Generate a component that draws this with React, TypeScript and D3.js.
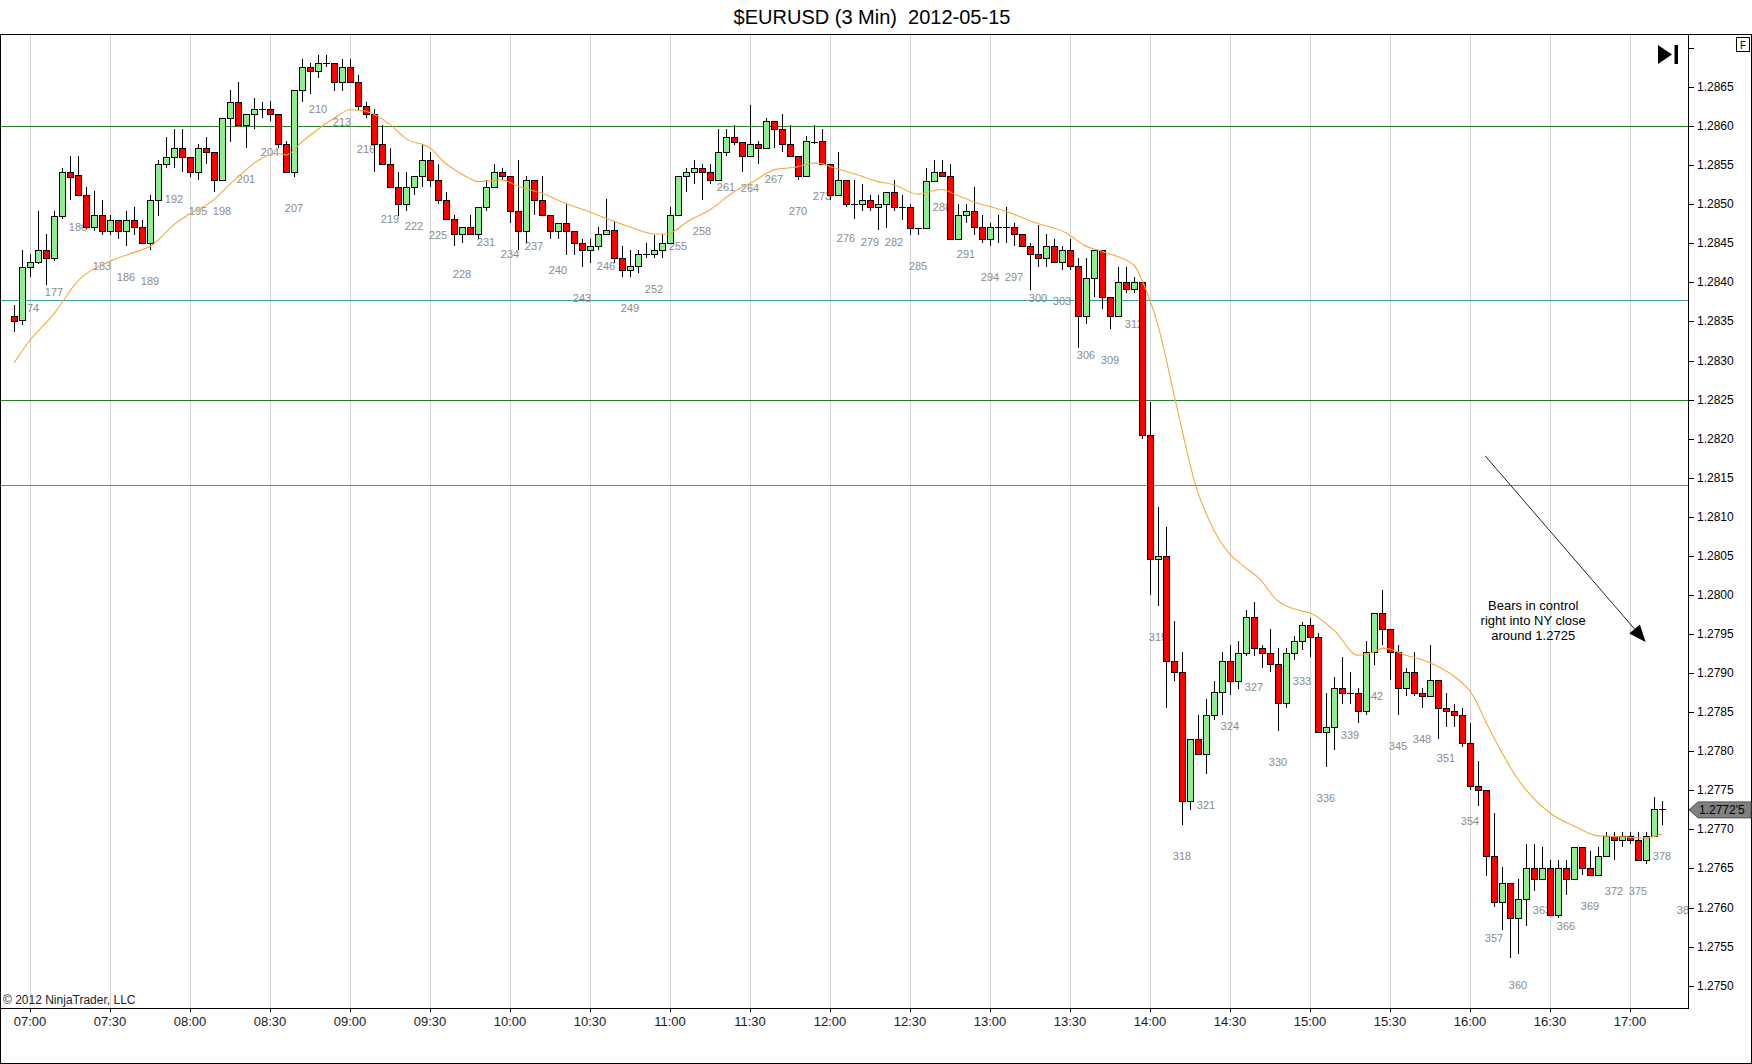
import React from 'react';
import * as d3 from 'd3';

// bar numbers run from FIRST_BAR, one bar every 3 minutes
const FIRST_BAR = 172;

const open = [
  1.28357, 1.28352, 1.28420, 1.28426, 1.28441, 1.28431, 1.28485, 1.28541, 1.28538, 1.28512,
  1.28471, 1.28486, 1.28466, 1.28480, 1.28466, 1.28480, 1.28471, 1.28451, 1.28506, 1.28551,
  1.28561, 1.28572, 1.28561, 1.28541, 1.28572, 1.28567, 1.28531, 1.28611, 1.28631, 1.28601,
  1.28616, 1.28622, 1.28622, 1.28616, 1.28577, 1.28541, 1.28646, 1.28676, 1.28671, 1.28681,
  1.28681, 1.28656, 1.28676, 1.28656, 1.28626, 1.28616, 1.28577, 1.28551, 1.28522, 1.28501,
  1.28522, 1.28536, 1.28557, 1.28531, 1.28506, 1.28481, 1.28462, 1.28471, 1.28462, 1.28496,
  1.28522, 1.28541, 1.28536, 1.28491, 1.28466, 1.28531, 1.28506, 1.28486, 1.28466, 1.28476,
  1.28466, 1.28451, 1.28442, 1.28447, 1.28462, 1.28467, 1.28431, 1.28416, 1.28421, 1.28436,
  1.28436, 1.28441, 1.28451, 1.28486, 1.28536, 1.28541, 1.28546, 1.28541, 1.28531, 1.28567,
  1.28586, 1.28580, 1.28562, 1.28577, 1.28572, 1.28606, 1.28596, 1.28577, 1.28562, 1.28536,
  1.28580, 1.28581, 1.28551, 1.28512, 1.28531, 1.28501, 1.28501, 1.28506, 1.28496, 1.28501,
  1.28516, 1.28496, 1.28496, 1.28470, 1.28470, 1.28530, 1.28541, 1.28536, 1.28456, 1.28486,
  1.28491, 1.28471, 1.28456, 1.28471, 1.28471, 1.28471, 1.28462, 1.28446, 1.28436, 1.28431,
  1.28446, 1.28426, 1.28441, 1.28421, 1.28357, 1.28406, 1.28441, 1.28381, 1.28357, 1.28401,
  1.28391, 1.28401, 1.28205, 1.28046, 1.28050, 1.27916, 1.27901, 1.27736, 1.27816, 1.27796,
  1.27846, 1.27876, 1.27916, 1.27890, 1.27926, 1.27972, 1.27932, 1.27926, 1.27912, 1.27862,
  1.27926, 1.27941, 1.27961, 1.27946, 1.27825, 1.27831, 1.27881, 1.27875, 1.27875, 1.27851,
  1.27927, 1.27977, 1.27956, 1.27927, 1.27881, 1.27901, 1.27875, 1.27871, 1.27891, 1.27856,
  1.27851, 1.27846, 1.27811, 1.27756, 1.27751, 1.27666, 1.27607, 1.27631, 1.27586, 1.27611,
  1.27651, 1.27637, 1.27651, 1.27591, 1.27651, 1.27637, 1.27677, 1.27651, 1.27642, 1.27666,
  1.27692, 1.27686, 1.27692, 1.27686, 1.27661, 1.27692, 1.27726,
];

const high = [
  1.28371, 1.28441, 1.28436, 1.28491, 1.28462, 1.28491, 1.28547, 1.28562, 1.28562, 1.28522,
  1.28517, 1.28506, 1.28486, 1.28480, 1.28491, 1.28496, 1.28480, 1.28512, 1.28557, 1.28586,
  1.28596, 1.28596, 1.28561, 1.28577, 1.28586, 1.28567, 1.28611, 1.28646, 1.28656, 1.28616,
  1.28636, 1.28631, 1.28632, 1.28616, 1.28581, 1.28646, 1.28686, 1.28681, 1.28691, 1.28691,
  1.28681, 1.28686, 1.28686, 1.28666, 1.28631, 1.28622, 1.28601, 1.28572, 1.28541, 1.28541,
  1.28536, 1.28577, 1.28567, 1.28551, 1.28516, 1.28486, 1.28471, 1.28486, 1.28496, 1.28531,
  1.28551, 1.28546, 1.28536, 1.28557, 1.28536, 1.28531, 1.28536, 1.28486, 1.28476, 1.28501,
  1.28466, 1.28456, 1.28456, 1.28471, 1.28507, 1.28477, 1.28446, 1.28442, 1.28442, 1.28451,
  1.28461, 1.28462, 1.28497, 1.28536, 1.28546, 1.28557, 1.28551, 1.28551, 1.28596, 1.28596,
  1.28602, 1.28580, 1.28627, 1.28581, 1.28611, 1.28606, 1.28616, 1.28602, 1.28562, 1.28587,
  1.28602, 1.28596, 1.28551, 1.28567, 1.28531, 1.28531, 1.28526, 1.28512, 1.28512, 1.28516,
  1.28531, 1.28512, 1.28501, 1.28470, 1.28546, 1.28557, 1.28557, 1.28552, 1.28501, 1.28501,
  1.28522, 1.28486, 1.28476, 1.28486, 1.28496, 1.28476, 1.28462, 1.28451, 1.28474, 1.28462,
  1.28456, 1.28446, 1.28456, 1.28431, 1.28431, 1.28441, 1.28441, 1.28381, 1.28420, 1.28420,
  1.28407, 1.28401, 1.28247, 1.28112, 1.28087, 1.27967, 1.27927, 1.27816, 1.27846, 1.27867,
  1.27890, 1.27927, 1.27936, 1.27941, 1.27981, 1.27991, 1.27936, 1.27956, 1.27932, 1.27932,
  1.27947, 1.27966, 1.27971, 1.27951, 1.27875, 1.27895, 1.27921, 1.27901, 1.27881, 1.27941,
  1.27977, 1.28006, 1.27956, 1.27936, 1.27906, 1.27927, 1.27881, 1.27936, 1.27891, 1.27875,
  1.27861, 1.27856, 1.27836, 1.27787, 1.27751, 1.27721, 1.27652, 1.27631, 1.27637, 1.27681,
  1.27681, 1.27677, 1.27661, 1.27661, 1.27661, 1.27677, 1.27677, 1.27672, 1.27677, 1.27697,
  1.27697, 1.27697, 1.27697, 1.27697, 1.27697, 1.27741, 1.27737,
];

const low = [
  1.28336, 1.28346, 1.28407, 1.28424, 1.28397, 1.28427, 1.28481, 1.28506, 1.28510, 1.28468,
  1.28466, 1.28461, 1.28461, 1.28456, 1.28446, 1.28461, 1.28449, 1.28442, 1.28485, 1.28546,
  1.28546, 1.28541, 1.28535, 1.28531, 1.28552, 1.28516, 1.28531, 1.28580, 1.28600, 1.28572,
  1.28596, 1.28611, 1.28606, 1.28572, 1.28541, 1.28535, 1.28631, 1.28641, 1.28661, 1.28676,
  1.28645, 1.28645, 1.28656, 1.28621, 1.28611, 1.28541, 1.28550, 1.28521, 1.28485, 1.28491,
  1.28512, 1.28522, 1.28522, 1.28501, 1.28480, 1.28446, 1.28451, 1.28461, 1.28456, 1.28491,
  1.28521, 1.28531, 1.28476, 1.28441, 1.28451, 1.28486, 1.28485, 1.28456, 1.28456, 1.28435,
  1.28435, 1.28420, 1.28425, 1.28442, 1.28461, 1.28425, 1.28407, 1.28407, 1.28412, 1.28431,
  1.28431, 1.28431, 1.28450, 1.28486, 1.28516, 1.28526, 1.28506, 1.28526, 1.28530, 1.28562,
  1.28576, 1.28541, 1.28561, 1.28552, 1.28571, 1.28572, 1.28567, 1.28561, 1.28531, 1.28535,
  1.28577, 1.28550, 1.28506, 1.28511, 1.28496, 1.28481, 1.28491, 1.28491, 1.28467, 1.28470,
  1.28491, 1.28480, 1.28461, 1.28461, 1.28470, 1.28530, 1.28536, 1.28456, 1.28456, 1.28476,
  1.28461, 1.28451, 1.28446, 1.28451, 1.28451, 1.28446, 1.28446, 1.28390, 1.28420, 1.28420,
  1.28425, 1.28416, 1.28416, 1.28316, 1.28347, 1.28381, 1.28366, 1.28341, 1.28356, 1.28386,
  1.28386, 1.28200, 1.28000, 1.27986, 1.27856, 1.27890, 1.27706, 1.27725, 1.27796, 1.27771,
  1.27840, 1.27846, 1.27872, 1.27880, 1.27922, 1.27922, 1.27906, 1.27901, 1.27826, 1.27856,
  1.27917, 1.27930, 1.27921, 1.27825, 1.27780, 1.27801, 1.27860, 1.27860, 1.27836, 1.27846,
  1.27911, 1.27936, 1.27891, 1.27846, 1.27871, 1.27871, 1.27856, 1.27871, 1.27816, 1.27831,
  1.27831, 1.27806, 1.27750, 1.27730, 1.27640, 1.27601, 1.27571, 1.27536, 1.27541, 1.27576,
  1.27621, 1.27637, 1.27591, 1.27586, 1.27616, 1.27637, 1.27642, 1.27642, 1.27642, 1.27666,
  1.27661, 1.27677, 1.27681, 1.27661, 1.27656, 1.27692, 1.27706,
];

const close = [
  1.28351, 1.28420, 1.28426, 1.28441, 1.28431, 1.28485, 1.28541, 1.28535, 1.28512, 1.28471,
  1.28486, 1.28466, 1.28480, 1.28466, 1.28480, 1.28471, 1.28451, 1.28506, 1.28551, 1.28561,
  1.28572, 1.28561, 1.28541, 1.28572, 1.28567, 1.28531, 1.28611, 1.28631, 1.28601, 1.28616,
  1.28622, 1.28622, 1.28616, 1.28577, 1.28541, 1.28646, 1.28676, 1.28671, 1.28681, 1.28681,
  1.28656, 1.28676, 1.28656, 1.28626, 1.28616, 1.28577, 1.28551, 1.28522, 1.28501, 1.28522,
  1.28536, 1.28557, 1.28531, 1.28506, 1.28481, 1.28462, 1.28471, 1.28462, 1.28496, 1.28522,
  1.28541, 1.28536, 1.28491, 1.28466, 1.28531, 1.28506, 1.28486, 1.28466, 1.28476, 1.28466,
  1.28451, 1.28441, 1.28447, 1.28462, 1.28467, 1.28431, 1.28416, 1.28421, 1.28436, 1.28436,
  1.28441, 1.28451, 1.28486, 1.28536, 1.28541, 1.28546, 1.28541, 1.28531, 1.28567, 1.28586,
  1.28580, 1.28562, 1.28577, 1.28572, 1.28606, 1.28596, 1.28577, 1.28562, 1.28536, 1.28581,
  1.28580, 1.28551, 1.28512, 1.28531, 1.28501, 1.28501, 1.28506, 1.28496, 1.28501, 1.28516,
  1.28497, 1.28496, 1.28470, 1.28470, 1.28530, 1.28541, 1.28536, 1.28456, 1.28486, 1.28491,
  1.28471, 1.28456, 1.28471, 1.28471, 1.28471, 1.28462, 1.28446, 1.28436, 1.28431, 1.28446,
  1.28426, 1.28441, 1.28421, 1.28357, 1.28406, 1.28441, 1.28381, 1.28357, 1.28401, 1.28391,
  1.28401, 1.28205, 1.28046, 1.28050, 1.27916, 1.27901, 1.27736, 1.27816, 1.27796, 1.27846,
  1.27876, 1.27916, 1.27890, 1.27926, 1.27972, 1.27932, 1.27926, 1.27912, 1.27862, 1.27926,
  1.27941, 1.27961, 1.27946, 1.27825, 1.27831, 1.27881, 1.27875, 1.27875, 1.27851, 1.27927,
  1.27977, 1.27956, 1.27927, 1.27881, 1.27901, 1.27875, 1.27871, 1.27891, 1.27856, 1.27851,
  1.27846, 1.27811, 1.27756, 1.27751, 1.27666, 1.27607, 1.27631, 1.27586, 1.27611, 1.27651,
  1.27637, 1.27651, 1.27591, 1.27651, 1.27637, 1.27677, 1.27651, 1.27642, 1.27666, 1.27692,
  1.27686, 1.27692, 1.27686, 1.27661, 1.27692, 1.27726, 1.27725,
];

// moving average line at these bar positions
const maBars = [
  172, 174, 177, 180, 184, 187.75, 189, 192, 194, 197, 198, 200, 203, 205, 206, 208, 212, 214, 216,
  219, 221, 224, 226, 228.6, 230, 233, 235, 238, 241, 244, 245, 249, 252, 253.6, 256.5, 259, 262,
  264.4, 267.3, 269.4, 272.3, 274.4, 277.3, 280, 282, 285, 288, 290, 292, 295.7, 299.8, 303.6,
  305.7, 308.2, 312, 313.2, 315, 317.3, 319.8, 322, 324, 325.7, 327.75, 329.8, 332.75, 334, 337,
  340, 342, 343.2, 346, 348.6, 352, 354.2, 356.5, 359.8, 364, 367.3, 369.8, 372.3, 375.7, 378,
];
const maValues = [
  1.28297, 1.28326, 1.28360, 1.28402, 1.28427, 1.28441, 1.28446, 1.28474, 1.28488, 1.28506,
  1.28516, 1.28535, 1.28559, 1.28565, 1.28563, 1.28580, 1.28610, 1.28621, 1.28619, 1.28602,
  1.28584, 1.28572, 1.28552, 1.28535, 1.28529, 1.28531, 1.28523, 1.28514, 1.28501, 1.28490,
  1.28486, 1.28471, 1.28462, 1.28462, 1.28480, 1.28493, 1.28516, 1.28529, 1.28545, 1.28547,
  1.28553, 1.28547, 1.28538, 1.28529, 1.28525, 1.28513, 1.28519, 1.28511, 1.28503, 1.28492,
  1.28476, 1.28463, 1.28448, 1.28439, 1.28422, 1.28398, 1.28345, 1.28243, 1.28137, 1.28083,
  1.28052, 1.28037, 1.28020, 1.27994, 1.27980, 1.27977, 1.27955, 1.27923, 1.27927, 1.27932,
  1.27923, 1.27915, 1.27896, 1.27874, 1.27827, 1.27767, 1.27721, 1.27703, 1.27692, 1.27691,
  1.27689, 1.27694,
];

const timeLabels = [
  '07:00', '07:30', '08:00', '08:30', '09:00', '09:30', '10:00', '10:30', '11:00', '11:30', '12:00',
  '12:30', '13:00', '13:30', '14:00', '14:30', '15:00', '15:30', '16:00', '16:30', '17:00',
];
const priceTicks = [
  1.2750, 1.2755, 1.2760, 1.2765, 1.2770, 1.2775, 1.2780, 1.2785, 1.2790, 1.2795, 1.2800, 1.2805,
  1.2810, 1.2815, 1.2820, 1.2825, 1.2830, 1.2835, 1.2840, 1.2845, 1.2850, 1.2855, 1.2860, 1.2865,
];
const topTick = 1.2870;

const levelPrices = [1.2860, 1.28378, 1.2825, 1.28141];
const levelColors = ['#2c7a2c', '#3a9c9c', '#2c7a2c', '#3a9c9c'];

// label of the bar still forming, clipped by the price axis
const pendingLabel = { bar: 381, price: 1.27637 };

const noteLines = ['Bears in control', 'right into NY close', 'around 1.2725'];
const noteAt = { bar: 361.9, price: 1.27987 };
const arrowFrom = { bar: 355.9, price: 1.28178 };
const arrowTo = { bar: 375.96, price: 1.2794 };

const W = 1752;
const H = 1064;
const L = 1, T = 34, R = 1688, B = 1008;
const FONT = '"Liberation Sans", Arial, sans-serif';

const x = d3.scaleLinear().domain([174, 374]).range([30, 1630]);
const y = d3.scaleLinear().domain([1.275, 1.287]).range([985.7, 48]);

const bars = open.map((o, i) => ({ n: FIRST_BAR + i, o, h: high[i], l: low[i], c: close[i] }));

const App: React.FC = () => {
  const maLine = d3
    .line<number>()
    .x((_, i) => x(maBars[i]))
    .y((d) => y(d))
    .curve(d3.curveMonotoneX);

  const px = (v: number) => Math.round(v) + 0.5;
  const last = bars[bars.length - 1];
  const tagY = y(last.c);

  const ax = x(arrowFrom.bar), ay = y(arrowFrom.price);
  const bx = x(arrowTo.bar), by = y(arrowTo.price);
  const ang = Math.atan2(by - ay, bx - ax);
  const headLen = 17, headW = 7;
  const hx = bx - headLen * Math.cos(ang), hy = by - headLen * Math.sin(ang);
  const head = [
    [bx, by],
    [hx + headW * Math.sin(ang), hy - headW * Math.cos(ang)],
    [hx - headW * Math.sin(ang), hy + headW * Math.cos(ang)],
  ];

  return (
    <svg
      width={W}
      height={H}
      viewBox={`0 0 ${W} ${H}`}
      style={{ position: 'absolute', left: 0, top: 0, background: '#fff', fontFamily: FONT }}
    >
      <defs>
        <clipPath id="plot">
          <rect x={L} y={T} width={R - L} height={B - T} />
        </clipPath>
      </defs>
      <rect x={0} y={0} width={W} height={H} fill="#fff" />

      <text x={872} y={17} fontSize={20} textAnchor="middle" dominantBaseline="central" fill="#000" style={{ whiteSpace: 'pre' }}>
        {'$EURUSD (3 Min)  2012-05-15'}
      </text>

      <g clipPath="url(#plot)">
        {timeLabels.map((t, i) => (
          <line key={t} x1={px(x(174 + i * 10))} x2={px(x(174 + i * 10))} y1={T} y2={B} stroke="#d2d2d2" />
        ))}
        {levelPrices.map((p, i) => (
          <line key={p} x1={L} x2={R} y1={px(y(p))} y2={px(y(p))} stroke={levelColors[i]} />
        ))}

        {bars
          .filter((b) => b.n % 3 === 0)
          .map((b) => (
            <text key={b.n} x={x(b.n)} y={y(b.l) + 31} fontSize={11} fill="#8a8a8a" textAnchor="middle" dominantBaseline="central">
              {b.n}
            </text>
          ))}
        <text x={x(pendingLabel.bar)} y={y(pendingLabel.price) + 31} fontSize={11} fill="#8a8a8a" textAnchor="middle" dominantBaseline="central">
          {pendingLabel.bar}
        </text>

        {bars.map((b) => {
          const cx = Math.round(x(b.n));
          const top = Math.round(y(Math.max(b.o, b.c)));
          const bot = Math.round(y(Math.min(b.o, b.c)));
          const doji = Math.abs(b.o - b.c) < 0.00002;
          return (
            <g key={b.n}>
              <line x1={cx + 0.5} x2={cx + 0.5} y1={Math.round(y(b.h))} y2={Math.round(y(b.l))} stroke="#000" />
              {doji ? (
                <line x1={cx - 3} x2={cx + 4} y1={top + 0.5} y2={top + 0.5} stroke="#000" />
              ) : (
                <rect
                  x={cx - 2.5}
                  y={top + 0.5}
                  width={6}
                  height={Math.max(1, bot - top)}
                  fill={b.c > b.o ? '#90ee90' : '#ff0000'}
                  stroke="#000"
                />
              )}
            </g>
          );
        })}

        <path d={maLine(maValues) ?? ''} fill="none" stroke="#f3a93a" strokeWidth={1.1} />

        <line x1={ax} y1={ay} x2={hx} y2={hy} stroke="#222" strokeWidth={1} />
        <polygon points={head.map((p) => p.join(',')).join(' ')} fill="#000" />
        {noteLines.map((t, i) => (
          <text key={t} x={x(noteAt.bar)} y={y(noteAt.price) + i * 15} fontSize={13} textAnchor="middle" dominantBaseline="central" fill="#000">
            {t}
          </text>
        ))}
      </g>

      {/* play-to-end button */}
      <path d="M1658,45 L1672,54.5 L1658,64 Z" fill="#000" />
      <rect x={1674.5} y={45} width={3.5} height={19} fill="#000" />

      {/* frame and axes */}
      <rect x={0.5} y={34.5} width={W - 1} height={H - 35} fill="none" stroke="#000" />
      <line x1={0} x2={R + 0.5} y1={B + 0.5} y2={B + 0.5} stroke="#000" />
      <line x1={R + 0.5} x2={R + 0.5} y1={T} y2={B + 1} stroke="#000" />

      {priceTicks.map((p) => (
        <g key={p}>
          <line x1={R} x2={R + 6} y1={px(y(p))} y2={px(y(p))} stroke="#000" />
          <text x={R + 9} y={y(p)} fontSize={12} dominantBaseline="central" fill="#000">
            {p.toFixed(4)}
          </text>
        </g>
      ))}
      <line x1={R} x2={R + 6} y1={px(y(topTick))} y2={px(y(topTick))} stroke="#000" />

      <path
        d={`M${R + 1},${tagY} L${R + 10},${tagY - 8} L${W - 1},${tagY - 8} L${W - 1},${tagY + 8} L${R + 10},${tagY + 8} Z`}
        fill="#808080"
        stroke="#555"
      />
      <text x={R + 11} y={tagY} fontSize={12} dominantBaseline="central" fill="#000">
        {"1.2772'5"}
      </text>

      <rect x={1736.5} y={37.5} width={13} height={14} fill="#fff" stroke="#000" />
      <text x={1743} y={45} fontSize={10} textAnchor="middle" dominantBaseline="central" fill="#000">
        F
      </text>

      {timeLabels.map((t, i) => (
        <g key={t}>
          <line x1={px(x(174 + i * 10))} x2={px(x(174 + i * 10))} y1={B} y2={B + 4} stroke="#000" />
          <text x={x(174 + i * 10)} y={B + 13} fontSize={13} textAnchor="middle" dominantBaseline="central" fill="#1a1a1a">
            {t}
          </text>
        </g>
      ))}

      <text x={3} y={1004} fontSize={12} fill="#222">
        © 2012 NinjaTrader, LLC
      </text>
    </svg>
  );
};

export default App;
